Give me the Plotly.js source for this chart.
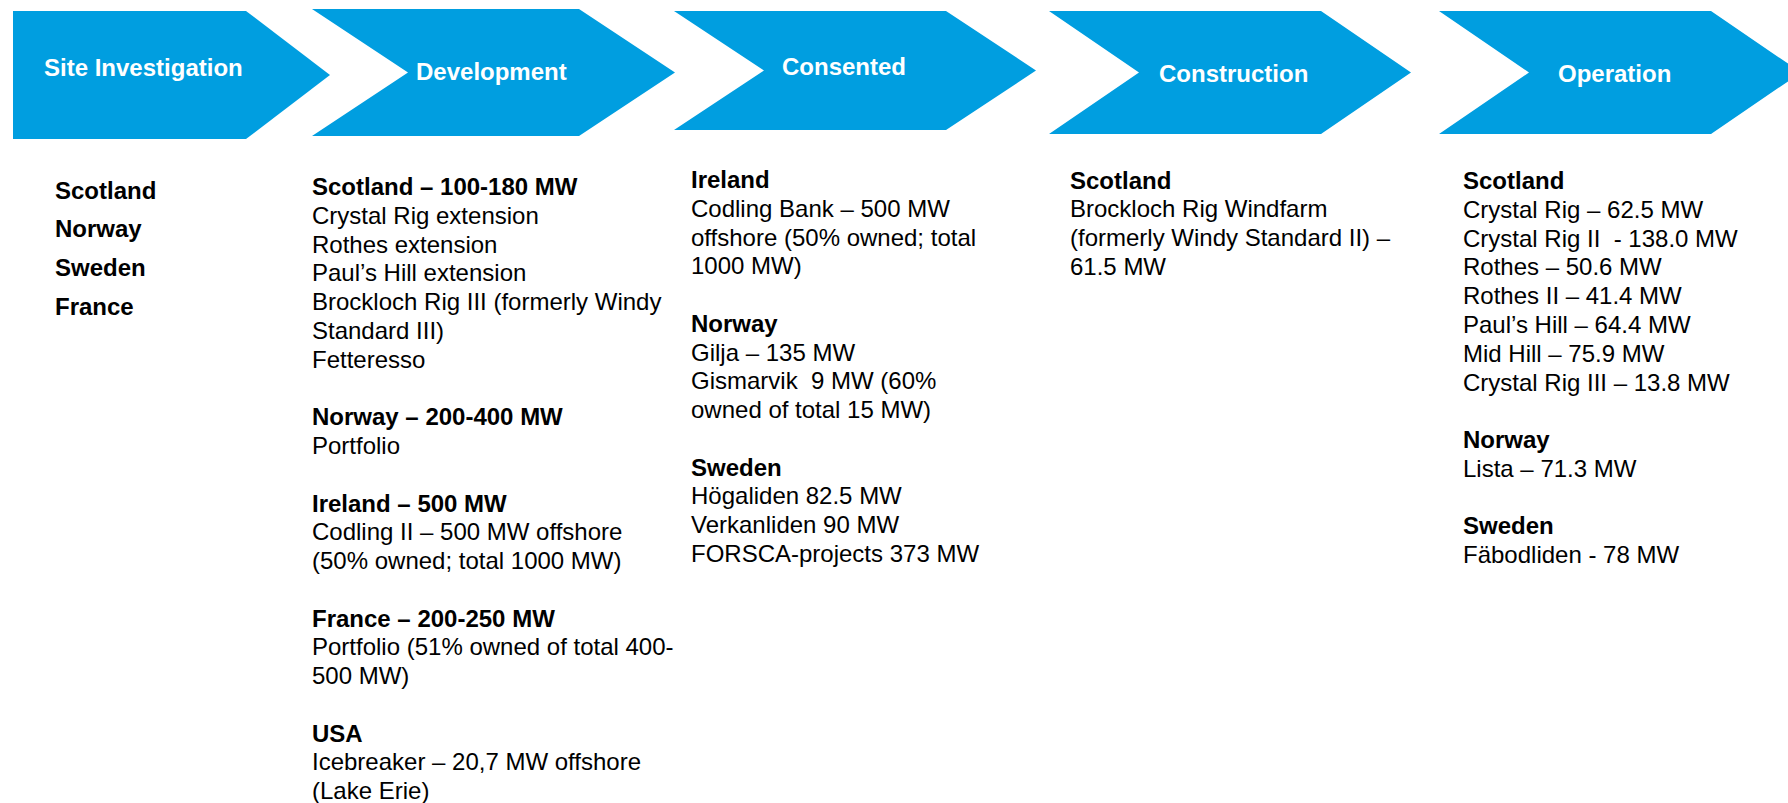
<!DOCTYPE html>
<html>
<head>
<meta charset="utf-8">
<script src="https://cdn.plot.ly/plotly-3.0.1.min.js"></script>
<style>html,body{margin:0;padding:0;background:#fff;}#chart{width:1788px;height:803px;}</style>
</head>
<body>
<div id="chart"></div>
<script>
// ---- content ----
const stageNames = ["Site Investigation", "Development", "Consented", "Construction", "Operation"];

const siteLines = ["Scotland", "Norway", "Sweden", "France"];

const devLines = [
  "<b>Scotland – 100-180 MW</b>",
  "Crystal Rig extension",
  "Rothes extension",
  "Paul’s Hill extension",
  "Brockloch Rig III (formerly Windy",
  "Standard III)",
  "Fetteresso",
  "",
  "<b>Norway – 200-400 MW</b>",
  "Portfolio",
  "",
  "<b>Ireland – 500 MW</b>",
  "Codling II – 500 MW offshore",
  "(50% owned; total 1000 MW)",
  "",
  "<b>France – 200-250 MW</b>",
  "Portfolio (51% owned of total 400-",
  "500 MW)",
  "",
  "<b>USA</b>",
  "Icebreaker – 20,7 MW offshore",
  "(Lake Erie)"
];

const consentedLines = [
  "<b>Ireland</b>",
  "Codling Bank – 500 MW",
  "offshore (50% owned; total",
  "1000 MW)",
  "",
  "<b>Norway</b>",
  "Gilja – 135 MW",
  "Gismarvik  9 MW (60%",
  "owned of total 15 MW)",
  "",
  "<b>Sweden</b>",
  "Högaliden 82.5 MW",
  "Verkanliden 90 MW",
  "FORSCA-projects 373 MW"
];

const constructionLines = [
  "<b>Scotland</b>",
  "Brockloch Rig Windfarm",
  "(formerly Windy Standard II) –",
  "61.5 MW"
];

const operationLines = [
  "<b>Scotland</b>",
  "Crystal Rig – 62.5 MW",
  "Crystal Rig II  - 138.0 MW",
  "Rothes – 50.6 MW",
  "Rothes II – 41.4 MW",
  "Paul’s Hill – 64.4 MW",
  "Mid Hill – 75.9 MW",
  "Crystal Rig III – 13.8 MW",
  "",
  "<b>Norway</b>",
  "Lista – 71.3 MW",
  "",
  "<b>Sweden</b>",
  "Fäbodliden - 78 MW"
];

// ---- layout geometry (pixels) ----
const W = 1788, H = 803;
const BLUE = "#009EE0";
const FONT = "Liberation Sans, Arial, sans-serif";
const arrowGeom = [
  {x0: 13,   xn: null, x1: 246,  xt: 330,  top: 11, bot: 139},
  {x0: 312,  xn: 408,  x1: 579,  xt: 675,  top: 9,  bot: 136},
  {x0: 674,  xn: 764,  x1: 946,  xt: 1036, top: 11, bot: 130},
  {x0: 1049, xn: 1139, x1: 1321, xt: 1411, top: 11, bot: 134},
  {x0: 1439, xn: 1529, x1: 1711, xt: 1801, top: 11, bot: 134}
];
const labelPos = [
  {x: 143.5, y: 67}, {x: 491, y: 71.5}, {x: 843.5, y: 66.5}, {x: 1233, y: 73.5}, {x: 1614, y: 73.5}
];
const columns = [
  {lines: devLines,          x: 311, y0: 186.7},
  {lines: consentedLines,    x: 690, y0: 179.5},
  {lines: constructionLines, x: 1069, y0: 180},
  {lines: operationLines,    x: 1462, y0: 180.7}
];
const LINE = 28.76;
const siteCol = {x: 54, y0: 190, step: 38.7};

const shapes = arrowGeom.map(g => {
  const mid = (g.top + g.bot) / 2;
  let p = `M ${g.x0},${g.top} L ${g.x1},${g.top} L ${g.xt},${mid} L ${g.x1},${g.bot} L ${g.x0},${g.bot}`;
  if (g.xn !== null) p += ` L ${g.xn},${mid}`;
  p += " Z";
  return {type: "path", path: p, xref: "x", yref: "y", fillcolor: BLUE, line: {width: 0}, layer: "below"};
});

const annotations = [];
stageNames.forEach((t, i) => {
  annotations.push({
    text: "<b>" + t + "</b>", x: labelPos[i].x, y: labelPos[i].y, xref: "x", yref: "y",
    xanchor: "center", yanchor: "middle", showarrow: false,
    font: {family: FONT, size: 24, color: "#ffffff"}
  });
});
siteLines.forEach((t, i) => {
  annotations.push({
    text: "<b>" + t + "</b>", x: siteCol.x, y: siteCol.y0 + i * siteCol.step, xref: "x", yref: "y",
    xanchor: "left", yanchor: "middle", showarrow: false, borderpad: 0,
    font: {family: FONT, size: 24, color: "#000000"}
  });
});
columns.forEach(c => {
  c.lines.forEach((t, i) => {
    if (!t) return;
    annotations.push({
      text: t, x: c.x, y: c.y0 + i * LINE, xref: "x", yref: "y",
      xanchor: "left", yanchor: "middle", showarrow: false, align: "left", borderpad: 0,
      font: {family: FONT, size: 24, color: "#000000"}
    });
  });
});

const layout = {
  width: W, height: H,
  margin: {l: 0, r: 0, t: 0, b: 0, pad: 0},
  paper_bgcolor: "#ffffff", plot_bgcolor: "#ffffff",
  xaxis: {range: [0, W], visible: false, fixedrange: true},
  yaxis: {range: [H, 0], visible: false, fixedrange: true},
  showlegend: false,
  shapes: shapes,
  annotations: annotations
};

Plotly.newPlot("chart", [], layout, {staticPlot: true, displayModeBar: false});
</script>
</body>
</html>
